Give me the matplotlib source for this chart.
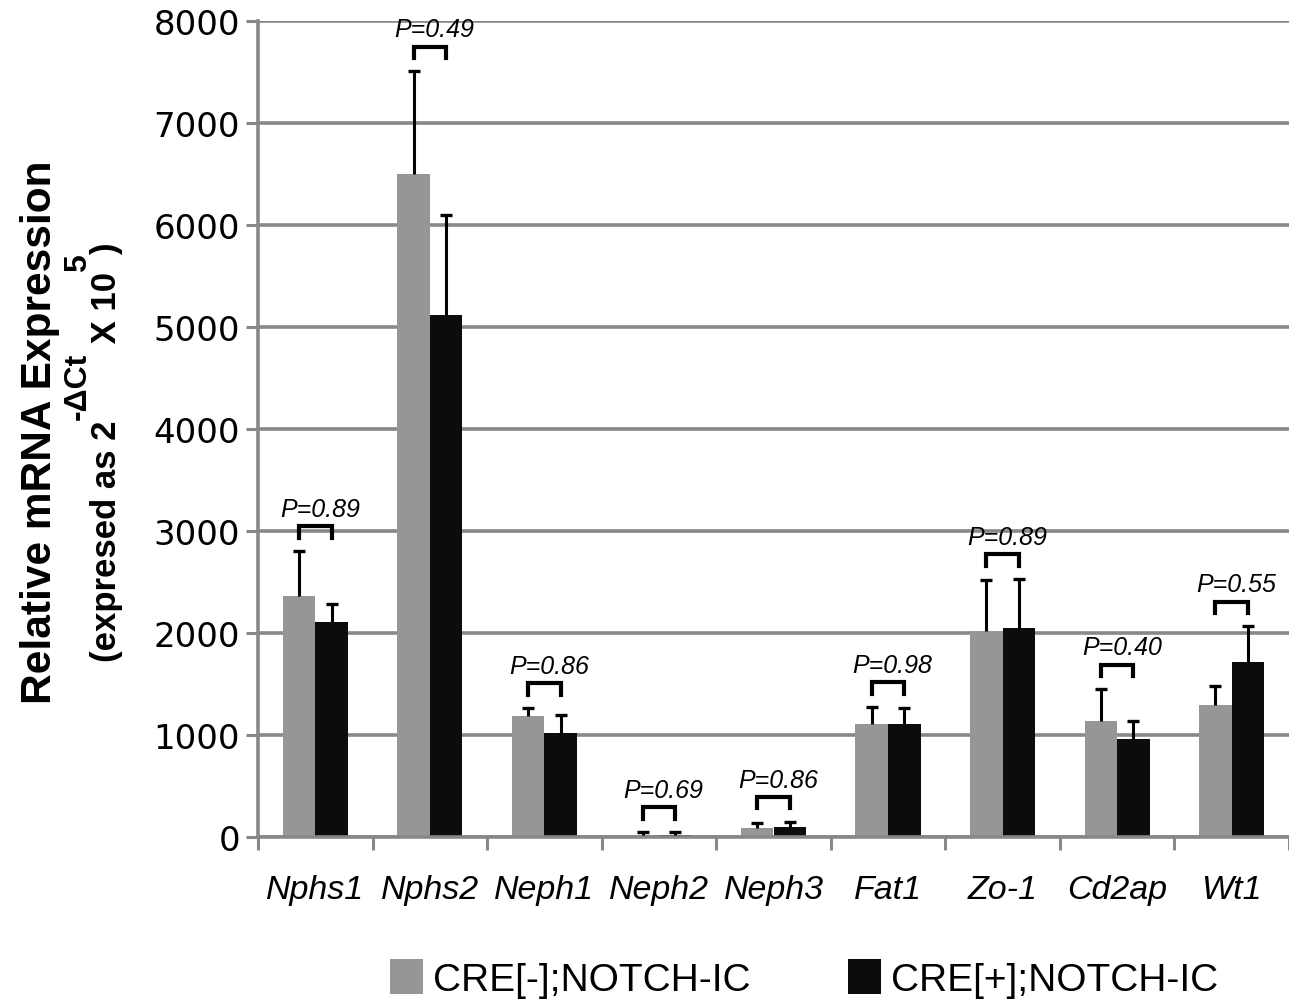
"""
Relative mRNA expression of podocyte genes, CRE[-] vs CRE[+] NOTCH-IC
"""

import matplotlib
matplotlib.use('Agg')
import matplotlib.pyplot as plt
from matplotlib.patches import Patch
from matplotlib.transforms import IdentityTransform
import numpy as np

plt.rcParams['font.family'] = ['Liberation Sans', 'DejaVu Sans']

genes = ['Nphs1', 'Nphs2', 'Neph1', 'Neph2', 'Neph3', 'Fat1', 'Zo-1', 'Cd2ap', 'Wt1']
cre_neg = [2365, 6500, 1190, 15, 85, 1105, 2020, 1135, 1295]
cre_neg_err = [440, 1010, 75, 35, 52, 170, 500, 315, 190]
cre_pos = [2105, 5120, 1015, 15, 100, 1105, 2045, 960, 1720]
cre_pos_err = [180, 980, 180, 35, 50, 155, 485, 180, 345]
p_values = ['0.89', '0.49', '0.86', '0.69', '0.86', '0.98', '0.89', '0.40', '0.55']

GRAY = '#969696'
DARK = '#0c0c0c'
LINE = '#888888'

fig = plt.figure(figsize=(12.89, 10.04), dpi=100)
ax = fig.add_axes([258 / 1289, 166 / 1004, 1031 / 1289, 816 / 1004])

x = np.arange(len(genes))
w = 0.285
neg = np.array(cre_neg)
pos = np.array(cre_pos)
neg_top = neg + np.array(cre_neg_err)
pos_top = pos + np.array(cre_pos_err)

ax.bar(x - w / 2, neg, w, color=GRAY, zorder=2)
ax.bar(x + w / 2, pos, w, color=DARK, zorder=2)
# upper error bars only
ax.vlines(x - w / 2, neg, neg_top, color='black', lw=2.2, zorder=3)
ax.vlines(x + w / 2, pos, pos_top, color='black', lw=2.2, zorder=3)
ax.plot(x - w / 2, neg_top, ls='none', marker='_', ms=8, mew=2.4, color='black', zorder=3)
ax.plot(x + w / 2, pos_top, ls='none', marker='_', ms=8, mew=2.4, color='black', zorder=3)

# significance brackets
tops = np.maximum(neg_top, pos_top)
for i, (t, p) in enumerate(zip(tops, p_values)):
    yb = t + 240
    ax.plot([i - w / 2, i - w / 2, i + w / 2, i + w / 2], [yb - 110, yb, yb, yb - 110],
            color='black', lw=3, solid_joinstyle='miter', zorder=4)
    ax.text(i + 0.04, yb + 105, f'P={p}', ha='center', va='baseline', fontsize=18,
            style='italic', zorder=5)

ax.set_ylim(0, 8000)
ax.set_xlim(-0.5, 8.457)
ax.set_yticks(range(0, 8001, 1000))
ax.yaxis.grid(True, color=LINE, lw=2.6)
ax.set_axisbelow(True)

ax.set_xticks(np.arange(-0.5, 9.0, 1.0))
ax.set_xticklabels([])
ax.set_xticks(x, minor=True)
ax.set_xticklabels(genes, minor=True, fontsize=24.5, style='italic')
ax.tick_params(axis='x', which='minor', length=0, pad=27)
ax.tick_params(axis='x', which='major', length=9, width=2.2, color=LINE, direction='out')
ax.tick_params(axis='y', length=9, width=2.2, color=LINE, pad=4, labelsize=24.5)
for lab in ax.get_yticklabels():
    lab.set_family('DejaVu Sans')

for s in ['top', 'right']:
    ax.spines[s].set_visible(False)
for s in ['left', 'bottom']:
    ax.spines[s].set_color(LINE)
    ax.spines[s].set_linewidth(2.6)

# y label, line 1
px = IdentityTransform()
fig.text(51, 1004 - 432, 'Relative mRNA Expression', rotation=90, rotation_mode='anchor',
         ha='center', va='baseline', fontsize=30.5, fontweight='bold', transform=px)

# y label, line 2 built piece by piece (large raised superscripts)
renderer = fig.canvas.get_renderer()
pieces = [('(expresed as 2', 25, 0), ('-\u0394Ct', 23, 30), (' X 10', 25, 0),
          ('5', 23, 30), (')', 25, 0)]
ypos = 1004 - 662
for txt, size, lift in pieces:
    t = fig.text(116 - lift, ypos, txt, rotation=90, rotation_mode='anchor',
                 ha='left', va='baseline', fontsize=size, fontweight='bold', transform=px)
    ypos = t.get_window_extent(renderer).y1

handles = [Patch(facecolor=GRAY, edgecolor='none'), Patch(facecolor=DARK, edgecolor='none')]
fig.legend(handles, ['CRE[-];NOTCH-IC', 'CRE[+];NOTCH-IC'], ncol=2, loc='upper left',
           bbox_to_anchor=(390 / 1289, 44 / 1004), frameon=False, borderpad=0, borderaxespad=0,
           prop={'size': 28}, handlelength=0.85, handleheight=1.0, handletextpad=0.26,
           columnspacing=2.5)

fig.savefig('out.png', dpi=100)
